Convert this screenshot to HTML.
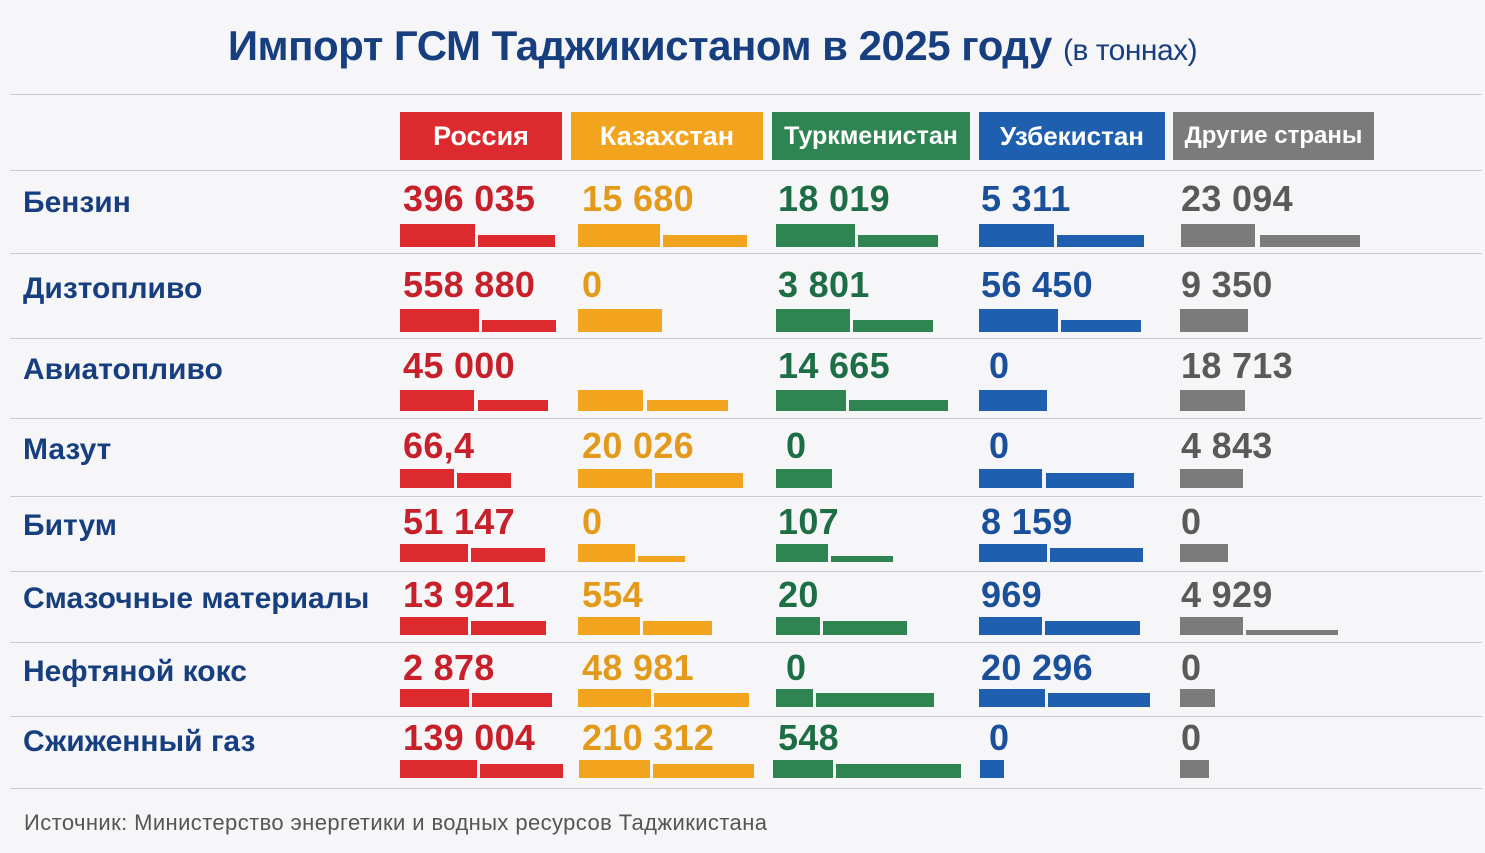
<!DOCTYPE html>
<html><head><meta charset="utf-8"><style>
body{margin:0;width:1485px;height:853px;background:#f6f6f8;position:relative;overflow:hidden;font-family:"Liberation Sans",sans-serif}
.a{position:absolute}
.t{left:0;width:1425px;text-align:center;top:22px;font-size:42px;font-weight:bold;color:#173f7f;letter-spacing:-0.5px}
.t span{font-size:30px;font-weight:normal}
.ln{left:10px;width:1472px;height:1px;background:#c8cbd3}
.h{top:112px;height:48px;color:#fff;font-size:27px;font-weight:bold;text-align:center;line-height:48px}
.lb{left:23px;font-size:30px;font-weight:bold;color:#173f7f}
.n{font-size:36px;font-weight:bold;letter-spacing:0.3px}
.r{color:#c8202a}.k{color:#e39a1a}.g{color:#1e6e45}.u{color:#1a4f9a}.o{color:#5a5a5a}
.br{background:#dc2a2e}.bk{background:#f2a41f}.bg{background:#2e8552}.bu{background:#1f5fb0}.bo{background:#7b7b7b}
</style></head><body>
<div class="a t">Импорт ГСМ Таджикистаном в 2025 году <span>(в тоннах)</span></div>
<div class="a ln" style="top:94px"></div>
<div class="a h br" style="left:400px;width:162px">Россия</div>
<div class="a h bk" style="left:571px;width:192px">Казахстан</div>
<div class="a h bg" style="left:772px;width:198px;font-size:25px">Туркменистан</div>
<div class="a h bu" style="left:979px;width:186px;font-size:26px">Узбекистан</div>
<div class="a h bo" style="left:1173px;width:201px;font-size:24px">Другие страны</div>
<div id="c"></div>
<div class="a" style="left:24px;top:810px;font-size:22px;letter-spacing:0.4px;color:#555">Источник: Министерство энергетики и водных ресурсов Таджикистана</div>
<script>
var lines=[170,253,338,418,496,571,642,716,788];
var h='';lines.forEach(function(y){h+='<div class="a ln" style="top:'+y+'px"></div>'});
var rows=[
["Бензин",184,224,23,["396 035","15 680","18 019","5 311","23 094"],[[400,475,478,555],[578,660,663,747],[776,855,858,938],[979,1054,1057,1144],[1181,1255,1260,1360]]],
["Дизтопливо",270,309,23,["558 880","0","3 801","56 450","9 350"],[[400,479,482,556],[578,662],[776,850,853,933],[979,1058,1061,1141],[1180,1248]]],
["Авиатопливо",351,390,21,["45 000","","14 665","0","18 713"],[[400,474,478,548],[578,643,647,728],[776,846,849,948],[979,1047],[1180,1245]]],
["Мазут",431,469,19,["66,4","20 026","0","0","4 843"],[[400,454,457,511],[578,652,655,743],[776,832],[979,1042,1046,1134],[1180,1243]]],
["Битум",507,544,18,["51 147","0","107","8 159","0"],[[400,468,471,545],[578,635,638,685],[776,828,831,893],[979,1047,1050,1143],[1180,1228]]],
["Смазочные материалы",580,617,18,["13 921","554","20","969","4 929"],[[400,468,471,546],[578,640,643,712],[776,820,823,907],[979,1042,1045,1140],[1180,1243,1246,1338]]],
["Нефтяной кокс",653,689,18,["2 878","48 981","0","20 296","0"],[[400,469,472,552],[578,651,654,749],[776,813,816,934],[979,1045,1048,1150],[1180,1215]]],
["Сжиженный газ",723,760,18,["139 004","210 312","548","0","0"],[[400,477,480,563],[579,650,653,754],[773,833,836,961],[980,1004],[1180,1209]]]];
var nx=[403,582,778,981,1181],tc=['r','k','g','u','o'],bc=['br','bk','bg','bu','bo'];
rows.forEach(function(r){
 h+='<div class="a lb" style="top:'+(r[1]+2)+'px">'+r[0]+'</div>';
 for(var i=0;i<5;i++){
  h+='<div class="a n '+tc[i]+'" style="left:'+(nx[i]+(r[4][i]=="0"&&(i==2||i==3)?8:0))+'px;top:'+(r[1]-6)+'px">'+r[4][i]+'</div>';
  var b=r[5][i];
  h+='<div class="a '+bc[i]+'" style="left:'+b[0]+'px;width:'+(b[1]-b[0])+'px;top:'+r[2]+'px;height:'+r[3]+'px"></div>';
  if(b.length>2){var sh=r[3]-4;if(r[0]=="Бензин"||r[0]=="Дизтопливо"||r[0]=="Авиатопливо")sh=Math.round(r[3]*0.5);
   if(r[0]=="Смазочные материалы"&&i==4)sh=5;
   if(r[0]=="Битум"&&(i==1||i==2))sh=6;
   h+='<div class="a '+bc[i]+'" style="left:'+b[2]+'px;width:'+(b[3]-b[2])+'px;top:'+(r[2]+r[3]-sh)+'px;height:'+sh+'px"></div>';}
 }
});
document.getElementById('c').innerHTML=h;
</script>
</body></html>
